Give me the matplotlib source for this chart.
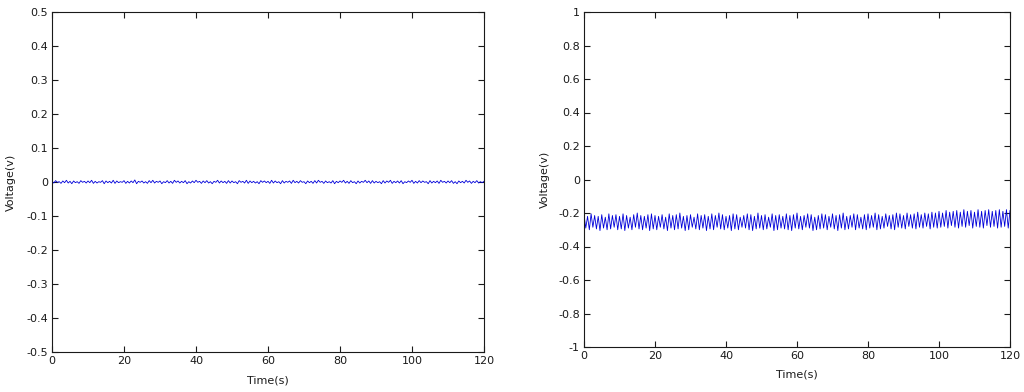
import numpy as np
import matplotlib
matplotlib.use("Agg")
import matplotlib.pyplot as plt

# ---------------- data ----------------
t_step = 0.5  # sampling interval (s)

left_peaks = [
    0.002, 0.004, 0.001, 0.003, 0.005, 0.002, 0.003, 0.001, 0.004, 0.002,
    0.003, 0.005, 0.002, 0.001, 0.004, 0.003, 0.002, 0.005, 0.003, 0.001,
    0.004, 0.002, 0.003, 0.006, 0.002, 0.003, 0.001, 0.004, 0.005, 0.002,
    0.003, 0.001, 0.004, 0.002, 0.005, 0.003, 0.002, 0.004, 0.001, 0.003,
    0.005, 0.002, 0.003, 0.004, 0.001, 0.002, 0.005, 0.003, 0.002, 0.004,
    0.003, 0.001, 0.004, 0.002, 0.005, 0.003, 0.002, 0.001, 0.004, 0.003,
    0.002, 0.005, 0.003, 0.001, 0.004, 0.002, 0.003, 0.005, 0.002, 0.004,
    0.001, 0.003, 0.002, 0.004, 0.005, 0.002, 0.003, 0.001, 0.004, 0.002,
    0.003, 0.005, 0.002, 0.004, 0.001, 0.003, 0.002, 0.005, 0.003, 0.004,
    0.002, 0.001, 0.004, 0.003, 0.005, 0.002, 0.003, 0.004, 0.001, 0.003,
    0.005, 0.002, 0.004, 0.003, 0.001, 0.004, 0.002, 0.003, 0.005, 0.002,
    0.003, 0.004, 0.001, 0.003, 0.002, 0.005, 0.003, 0.002, 0.004, 0.001,
    0.002,
]
left_troughs = [
    -0.003, -0.001, -0.004, -0.002, -0.003, -0.005, -0.002, -0.004, -0.001, -0.003,
    -0.002, -0.004, -0.003, -0.001, -0.005, -0.002, -0.003, -0.004, -0.002, -0.001,
    -0.004, -0.003, -0.002, -0.005, -0.001, -0.003, -0.004, -0.002, -0.003, -0.001,
    -0.005, -0.002, -0.003, -0.004, -0.001, -0.003, -0.002, -0.005, -0.003, -0.002,
    -0.001, -0.004, -0.002, -0.003, -0.005, -0.001, -0.003, -0.002, -0.004, -0.003,
    -0.002, -0.005, -0.001, -0.003, -0.004, -0.002, -0.003, -0.005, -0.001, -0.002,
    -0.004, -0.003, -0.002, -0.005, -0.003, -0.001, -0.004, -0.002, -0.003, -0.001,
    -0.005, -0.002, -0.004, -0.003, -0.001, -0.004, -0.002, -0.003, -0.005, -0.002,
    -0.001, -0.003, -0.004, -0.002, -0.005, -0.003, -0.001, -0.002, -0.004, -0.003,
    -0.002, -0.005, -0.003, -0.001, -0.004, -0.002, -0.003, -0.005, -0.002, -0.001,
    -0.004, -0.003, -0.002, -0.001, -0.005, -0.003, -0.002, -0.004, -0.001, -0.003,
    -0.002, -0.004, -0.005, -0.002, -0.003, -0.001, -0.004, -0.002, -0.003, -0.002,
]

right_peaks = [
    -0.21, -0.22, -0.205, -0.215, -0.22, -0.21, -0.225, -0.205, -0.215, -0.21,
    -0.22, -0.205, -0.215, -0.225, -0.21, -0.2, -0.215, -0.22, -0.21, -0.205,
    -0.215, -0.22, -0.21, -0.225, -0.205, -0.215, -0.21, -0.2, -0.22, -0.215,
    -0.21, -0.225, -0.205, -0.215, -0.21, -0.22, -0.205, -0.215, -0.2, -0.21,
    -0.22, -0.215, -0.205, -0.21, -0.225, -0.215, -0.205, -0.21, -0.22, -0.2,
    -0.215, -0.21, -0.225, -0.205, -0.215, -0.21, -0.22, -0.205, -0.215, -0.21,
    -0.2, -0.22, -0.215, -0.205, -0.21, -0.225, -0.215, -0.205, -0.21, -0.22,
    -0.205, -0.215, -0.21, -0.2, -0.22, -0.215, -0.205, -0.21, -0.225, -0.21,
    -0.205, -0.215, -0.2, -0.21, -0.22, -0.205, -0.215, -0.21, -0.2, -0.205,
    -0.215, -0.2, -0.21, -0.205, -0.195, -0.21, -0.2, -0.205, -0.195, -0.2,
    -0.19, -0.2, -0.185, -0.195, -0.19, -0.185, -0.195, -0.18, -0.19, -0.185,
    -0.195, -0.18, -0.19, -0.185, -0.18, -0.19, -0.185, -0.18, -0.19, -0.18,
    -0.185,
]
right_troughs = [
    -0.29, -0.3, -0.285, -0.295, -0.305, -0.29, -0.3, -0.295, -0.285, -0.3,
    -0.295, -0.305, -0.29, -0.3, -0.285, -0.295, -0.3, -0.29, -0.305, -0.295,
    -0.3, -0.285, -0.295, -0.305, -0.29, -0.3, -0.295, -0.29, -0.305, -0.3,
    -0.285, -0.295, -0.3, -0.29, -0.305, -0.295, -0.3, -0.285, -0.295, -0.3,
    -0.29, -0.305, -0.295, -0.3, -0.285, -0.29, -0.3, -0.305, -0.295, -0.29,
    -0.3, -0.295, -0.285, -0.305, -0.3, -0.29, -0.295, -0.3, -0.305, -0.29,
    -0.295, -0.3, -0.285, -0.29, -0.305, -0.3, -0.295, -0.29, -0.3, -0.285,
    -0.295, -0.305, -0.29, -0.3, -0.295, -0.285, -0.3, -0.29, -0.295, -0.3,
    -0.29, -0.285, -0.3, -0.295, -0.29, -0.28, -0.295, -0.3, -0.285, -0.29,
    -0.295, -0.28, -0.29, -0.295, -0.285, -0.29, -0.28, -0.295, -0.285, -0.29,
    -0.285, -0.28, -0.29, -0.275, -0.285, -0.29, -0.28, -0.285, -0.275, -0.29,
    -0.28, -0.285, -0.29, -0.275, -0.285, -0.28, -0.29, -0.285, -0.28, -0.29,
]

x_ticks = [0, 20, 40, 60, 80, 100, 120]
x_ticklabels = ["0", "20", "40", "60", "80", "100", "120"]
left_yticks = [0.5, 0.4, 0.3, 0.2, 0.1, 0, -0.1, -0.2, -0.3, -0.4, -0.5]
left_yticklabels = ["0.5", "0.4", "0.3", "0.2", "0.1", "0", "-0.1", "-0.2", "-0.3", "-0.4", "-0.5"]
right_yticks = [1, 0.8, 0.6, 0.4, 0.2, 0, -0.2, -0.4, -0.6, -0.8, -1]
right_yticklabels = ["1", "0.8", "0.6", "0.4", "0.2", "0", "-0.2", "-0.4", "-0.6", "-0.8", "-1"]


def interleave(peaks, troughs):
    out = []
    for i in range(len(troughs)):
        out.append(peaks[i])
        out.append(troughs[i])
    out.append(peaks[-1])
    return np.array(out)


left_v = interleave(left_peaks, left_troughs)
right_v = interleave(right_peaks, right_troughs)
left_t = np.arange(len(left_v)) * t_step
right_t = np.arange(len(right_v)) * t_step

# ---------------- figure ----------------
plt.rcParams['font.family'] = ['DejaVu Sans']
plt.rcParams['font.size'] = 8

fig = plt.figure(figsize=(10.24, 3.92), dpi=100)
ax1 = fig.add_axes([52 / 1024, 40 / 392, 432 / 1024, 340 / 392])
ax2 = fig.add_axes([584 / 1024, 45 / 392, 426 / 1024, 335 / 392])


def style(ax, yticks, yticklabels, ylim, xlabelpad, ylabelpad):
    ax.set_xlim(0, 120)
    ax.set_ylim(*ylim)
    ax.set_xticks(x_ticks)
    ax.set_xticklabels(x_ticklabels)
    ax.set_yticks(yticks)
    ax.set_yticklabels(yticklabels)
    ax.tick_params(direction='in', length=4, width=0.8, top=True, right=True,
                   labelsize=8, pad=3, colors='#1a1a1a')
    for s in ax.spines.values():
        s.set_linewidth(0.8)
        s.set_color('#1a1a1a')
    ax.set_xlabel("Time(s)", fontsize=8, labelpad=xlabelpad, color='#1a1a1a')
    ax.set_ylabel("Voltage(v)", fontsize=8, labelpad=ylabelpad, color='#1a1a1a')


ax1.plot(left_t, left_v, color=(0, 0, 0.85), linewidth=0.6)
style(ax1, left_yticks, left_yticklabels, (-0.5, 0.5), 7, 7)

ax2.plot(right_t, right_v, color=(0, 0, 0.85), linewidth=0.6)
style(ax2, right_yticks, right_yticklabels, (-1, 1), 6, 6)

fig.savefig("out.png", dpi=100)
